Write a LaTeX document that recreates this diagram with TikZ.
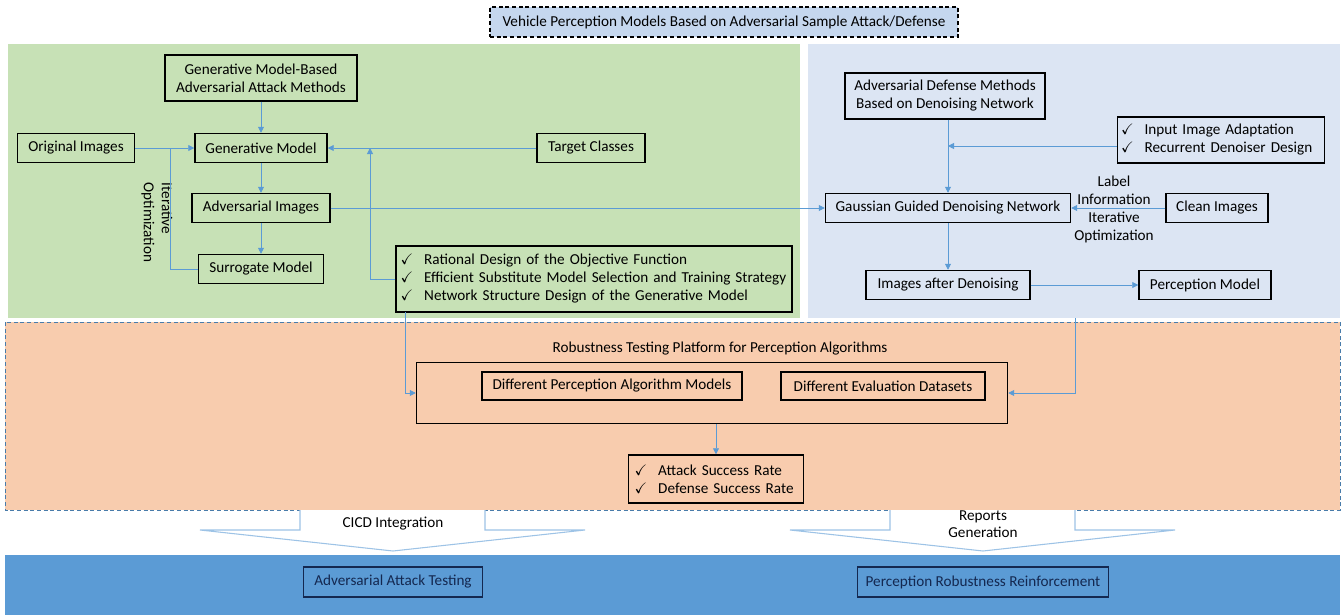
\documentclass[tikz,border=0pt]{standalone}
\usepackage{amssymb}
\usepackage{fontspec}
\setmainfont{Carlito}
\usetikzlibrary{arrows.meta}

\definecolor{greenbg}{RGB}{199,225,182}
\definecolor{bluebg}{RGB}{220,229,243}
\definecolor{orangebg}{RGB}{248,204,174}
\definecolor{bandblue}{RGB}{91,155,213}
\definecolor{linkblue}{RGB}{91,155,213}
\definecolor{titlebg}{RGB}{197,215,238}
\definecolor{chevline}{RGB}{157,195,230}
\definecolor{navy}{RGB}{20,40,80}

\newcommand{\chk}{\makebox[1.55em][l]{$\checkmark$}}

\begin{document}
\begin{tikzpicture}[
  x=0.75pt, y=-0.75pt,
  font=\fontsize{11.4}{13.5}\selectfont,
  box/.style={draw, line width=1.1pt, align=center, inner sep=2pt,
    minimum height=21.75pt},
  boxw/.style={minimum width=#1*0.75pt},
  boxh/.style={minimum height=#1*0.75pt},
  flow/.style={draw=linkblue, line width=0.6pt,
    -{Triangle[length=4.5pt,width=4.5pt]}},
  link/.style={draw=linkblue, line width=0.6pt},
  chevron/.style={fill=white, draw=chevline, line width=0.8pt},
]
  \useasboundingbox (0,0) rectangle (1343,615);

  % areas
  \fill[greenbg] (8,44) rectangle (800,318);
  \fill[bluebg] (808,44) rectangle (1340,318);
  \draw[fill=orangebg, draw=linkblue!80!black, densely dashed, line width=0.5pt]
    (5,322) rectangle (1340,510);
  \fill[bandblue] (5,555) rectangle (1340,615);

  % title
  \node[box, boxw=468, boxh=30, fill=titlebg, densely dashed, line width=0.9pt]
    (title) at (724,22) {Vehicle Perception Models Based on Adversarial Sample Attack/Defense};

  % attack side
  \node[box, boxw=192, boxh=46] (methods) at (261,78)
    {Generative Model-Based\\Adversarial Attack Methods};
  \node[box, boxw=117] (orig) at (76,148) {Original Images};
  \node[box, boxw=132] (genmodel) at (261,148) {Generative Model};
  \node[box, boxw=108] (target) at (591,148) {Target Classes};
  \node[box, boxw=138] (advimg) at (261,208) {Adversarial Images};
  \node[box, boxw=125] (surrogate) at (261,269) {Surrogate Model};
  \node[box, boxw=396, boxh=66, align=left, text width=290pt] (attackchk) at (594,279)
    {\chk Rational Design of the Objective Function\\
     \chk Efficient Substitute Model Selection and Training Strategy\\
     \chk Network Structure Design of the Generative Model};
  \node[rotate=-90, anchor=west, align=left] (iterlbl) at (157,178)
    {Iterative\\Optimization};

  % defense side
  \node[box, boxw=200, boxh=46] (defmeth) at (945,96)
    {Adversarial Defense Methods\\Based on Denoising Network};
  \node[box, boxw=207, boxh=46, align=left, text width=150pt] (defchk) at (1221,140)
    {\chk Input Image Adaptation\\\chk Recurrent Denoiser Design};
  \node[box, boxw=245] (ggdn) at (948,208) {Gaussian Guided Denoising Network};
  \node[box, boxw=102] (clean) at (1217,208) {Clean Images};
  \node[box, boxw=164] (denoised) at (948,285) {Images after Denoising};
  \node[box, boxw=132] (percmodel) at (1205,285) {Perception Model};
  \node[align=center] (lbllbl) at (1114,209)
    {Label\\Information\\Iterative\\Optimization};

  % testing platform
  \node (plattitle) at (720,349) {Robustness Testing Platform for Perception Algorithms};
  \node[box, boxw=591, boxh=61] (platform) at (712,393) {};
  \node[box, boxw=260, boxh=28] (algos) at (612,386) {Different Perception Algorithm Models};
  \node[box, boxw=204, boxh=28] (datasets) at (883,386) {Different Evaluation Datasets};
  \node[box, boxw=175, boxh=48, align=left, text width=122pt] (results) at (716,479)
    {\chk Attack Success Rate\\\chk Defense Success Rate};

  % chevrons
  \draw[chevron] (300,510) -- (300,530) -- (200,530) -- (393,551)
    -- (585,530) -- (485,530) -- (485,510);
  \draw[chevron] (890,510) -- (890,530) -- (790,530) -- (983,551)
    -- (1175,530) -- (1075,530) -- (1075,510);
  \node (cicd) at (393,524) {CICD Integration};
  \node[align=center, font=\fontsize{11.4}{12.75}\selectfont] (reports) at (983,524)
    {Reports\\Generation};

  % bottom band
  \node[box, boxw=179, boxh=30, draw=navy, text=navy] (attacktest) at (393,582)
    {Adversarial Attack Testing};
  \node[box, boxw=251, boxh=30, draw=navy, text=navy] (reinforce) at (983,582)
    {Perception Robustness Reinforcement};

  \coordinate (loopL) at (170,148);
  \coordinate (joinT) at (370,148);
  \coordinate (joinD) at (948,146);
  \coordinate (tapL) at (405,312);
  \coordinate (tapR) at (1075,318);

  % attack links
  \draw[flow] (methods) -- (genmodel);
  \draw[flow] (genmodel) -- (advimg);
  \draw[flow] (advimg) -- (surrogate);
  \draw[flow] (orig) -- (genmodel);
  \draw[link] (surrogate.west) -| (loopL);
  \draw[flow] (target) -- (genmodel);
  \draw[flow] (attackchk.west) -| (joinT);
  \draw[flow] (advimg) -- (ggdn);

  % defense links
  \draw[flow] (defmeth.south -| ggdn.north) -- (ggdn.north);
  \draw[flow] (defchk.west |- joinD) -- (joinD);
  \draw[flow] (clean) -- (ggdn);
  \draw[flow] (ggdn) -- (denoised);
  \draw[flow] (denoised) -- (percmodel);

  % into the platform
  \draw[flow] (tapL) |- (platform.west);
  \draw[flow] (tapR) |- (platform.east);
  \draw[flow] (platform.south -| results.north) -- (results.north);
\end{tikzpicture}
\end{document}
